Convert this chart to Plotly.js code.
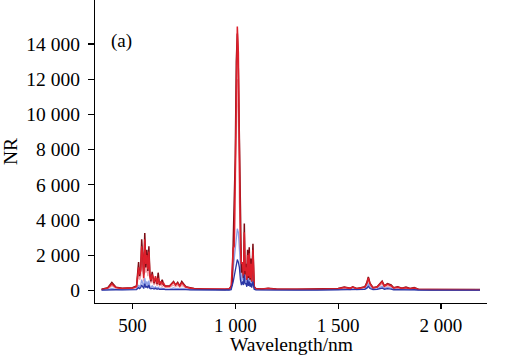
<!DOCTYPE html>
<html>
<head>
<meta charset="utf-8">
<script src="https://cdn.plot.ly/plotly-3.0.1.min.js"></script>
<style>html,body{margin:0;padding:0;background:#fff;}#chart{width:512px;height:360px;}</style>
</head>
<body>
<div id="chart"></div>
<script>
// Wavelength grid (nm)
const wavelength = [
  350,380,400,420,450,480,500,520,
  530,535,540,545,550,555,560,565,570,575,580,585,590,596,605,612,620,625,632,640,645,652,660,
  680,700,710,720,730,740,750,760,780,800,850,900,950,
  970,980,985,990,995,1000,1005,1010,1015,1020,1025,1030,1035,1040,1044,1048,1052,1056,1060,1064,1068,1072,1076,1080,1086,1092,1100,
  1130,1160,1200,1300,1400,1500,
  1530,1560,1571,1590,1610,1630,1640,1647,1655,1670,1690,1705,1714,1725,1740,1758,1770,1790,1810,1830,1850,1870,1890,
  1950,2050,2190
];
const darkRed = [
  60,150,450,180,120,130,150,250,
  1600,800,1200,2900,1500,900,3250,1300,2300,1100,2500,900,500,1050,400,700,350,1000,300,450,600,300,250,
  250,500,300,450,250,500,350,200,150,100,80,60,50,
  80,200,300,2700,4500,7500,13000,14600,12500,7500,3000,1000,1500,700,3800,900,1500,600,2300,700,2450,600,1800,500,2650,200,100,
  80,120,70,60,70,100,
  180,120,200,100,150,200,450,760,400,150,200,400,520,250,380,300,150,200,120,180,100,150,60,
  50,40,40
];
const red = [
  50,120,350,150,100,110,130,200,
  1300,900,1100,2500,2000,700,2900,1500,2000,1200,2200,800,600,900,450,800,400,700,350,500,350,400,220,
  230,450,300,400,250,420,300,180,130,90,70,55,45,
  70,180,1500,2400,2500,6000,11500,15000,13500,7000,2500,1500,1600,800,3300,1100,1300,600,2000,800,2100,700,1500,500,2300,200,90,
  70,100,60,55,60,90,
  160,110,180,90,130,180,400,700,380,140,180,350,480,230,340,260,130,170,110,150,90,130,55,
  45,35,35
];
const pink = [
  40,90,250,120,80,90,100,150,
  900,600,800,1700,1300,500,2000,1000,1400,800,1500,600,400,600,300,500,250,450,250,350,200,280,150,
  160,300,200,280,170,280,200,120,90,60,50,40,35,
  50,120,1200,1600,1800,4500,9000,12000,10000,5000,2000,900,1200,600,2200,800,900,400,1400,500,1400,500,1000,350,1500,150,60,
  50,70,45,40,45,60,
  120,80,130,70,100,130,300,550,280,100,130,260,360,170,250,190,100,120,80,110,70,90,40,
  35,30,30
];
const blue = [
  10,20,60,30,20,25,30,40,
  150,100,150,300,200,100,380,150,250,120,300,100,80,120,70,110,60,90,50,70,50,60,40,
  40,70,50,60,45,60,50,35,25,20,15,12,10,
  15,40,400,500,800,1200,1600,1750,1600,1300,600,300,500,300,900,350,400,200,600,250,500,200,400,150,500,60,20,
  15,20,12,10,12,20,
  40,25,50,20,30,50,120,220,100,40,50,90,130,60,90,70,30,40,25,35,20,30,10,
  8,6,6
];
const lightBlue = [
  20,40,100,50,35,40,50,70,
  300,200,280,600,400,200,700,300,500,250,550,200,150,250,130,200,110,170,90,130,90,110,70,
  70,130,90,110,80,110,90,60,45,35,28,22,18,
  25,70,700,900,1500,2500,3200,3500,3300,2500,1200,500,900,500,1500,600,700,350,1000,400,900,350,700,250,900,100,35,
  25,35,22,18,22,35,
  70,45,90,35,55,90,200,380,180,70,90,160,230,110,160,120,55,70,45,60,35,50,18,
  14,10,10
];
const yTicks = [0,2000,4000,6000,8000,10000,12000,14000];
const xTicks = [500,1000,1500,2000];

const seriesList = [
  {y: pink, color: '#f2a3ab', w: 1.3},
  {y: lightBlue, color: '#8f9fe6', w: 1.3},
  {y: darkRed, color: '#7d0c14', w: 1.5},
  {y: red, color: '#dc1f2b', w: 1.5},
  {y: blue, color: '#2a36a6', w: 1.3}
];
const traces = seriesList.map(s => ({
  x: wavelength, y: s.y, type: 'scatter', mode: 'lines',
  line: {color: s.color, width: s.w}, hoverinfo: 'skip'
}));

const font = {family: '"Liberation Serif","Times New Roman",serif', color: '#000'};
const layout = {
  width: 512, height: 360,
  margin: {l: 95, r: 25, t: 0, b: 57},
  paper_bgcolor: '#fff', plot_bgcolor: '#fff',
  showlegend: false,
  separators: '. ',
  font: Object.assign({size: 19.5}, font),
  xaxis: {
    range: [318, 2224], tickvals: xTicks, tickformat: ',d',
    showline: true, linecolor: '#000', linewidth: 1.2, mirror: false,
    ticks: 'outside', ticklen: 5, tickcolor: '#000', tickwidth: 1.2,
    showgrid: false, zeroline: false, ticklabelstandoff: 0,
    tickfont: Object.assign({size: 19}, font)
  },
  yaxis: {
    range: [-723, 16505], tickvals: yTicks, tickformat: ',d',
    showline: true, linecolor: '#000', linewidth: 1.2, mirror: false,
    ticks: 'outside', ticklen: 6, tickcolor: '#000', tickwidth: 1.2,
    showgrid: false, zeroline: false, ticklabelstandoff: 4,
    tickfont: Object.assign({size: 19.5}, font),
    title: {text: 'NR', font: Object.assign({size: 19.5}, font), standoff: 4}
  },
  annotations: [{
    text: '(a)', xref: 'paper', yref: 'paper', x: 0.036, y: 0.865,
    xanchor: 'left', yanchor: 'middle', showarrow: false,
    font: Object.assign({size: 19}, font)
  }, {
    text: 'Wavelength/nm', xref: 'paper', yref: 'paper', x: 0.5, y: -0.136,
    xanchor: 'center', yanchor: 'middle', showarrow: false,
    font: Object.assign({size: 19.5}, font)
  }]
};
Plotly.newPlot('chart', traces, layout, {staticPlot: true, displayModeBar: false});
</script>
</body>
</html>
